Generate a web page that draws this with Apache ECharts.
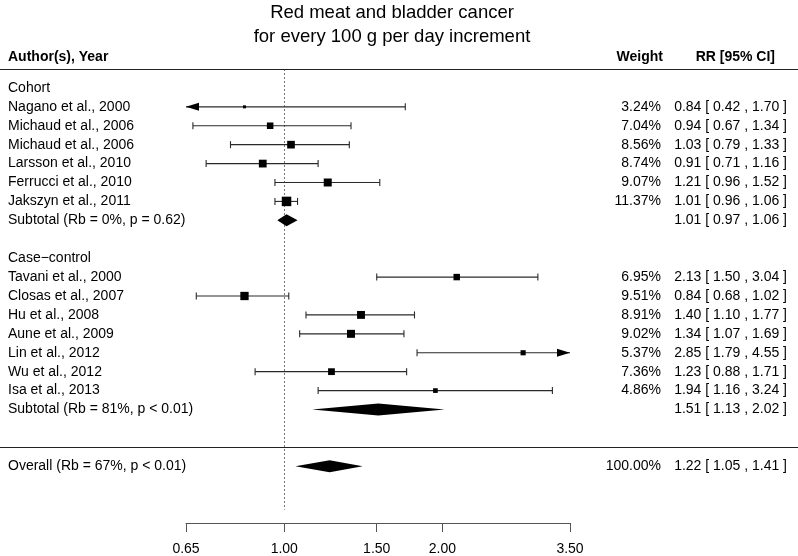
<!DOCTYPE html>
<html>
<head>
<meta charset="utf-8">
<title>Red meat and bladder cancer</title>
<script src="https://cdn.jsdelivr.net/npm/echarts@6/dist/echarts.min.js"></script>
<style>
html, body { margin: 0; padding: 0; background: #fff; }
#chart { width: 798px; height: 556px; }
</style>
</head>
<body>
<div id="chart"></div>
<script>
// individual studies, top to bottom
const studyNames = ['Nagano et al., 2000', 'Michaud et al., 2006', 'Michaud et al., 2006', 'Larsson et al., 2010',
  'Ferrucci et al., 2010', 'Jakszyn et al., 2011', 'Tavani et al., 2000', 'Closas et al., 2007',
  'Hu et al., 2008', 'Aune et al., 2009', 'Lin et al., 2012', 'Wu et al., 2012', 'Isa et al., 2013'];
const studyRows = [19, 18, 17, 16, 15, 14, 10, 9, 8, 7, 6, 5, 4];
const studyRR = [0.84, 0.94, 1.03, 0.91, 1.21, 1.01, 2.13, 0.84, 1.40, 1.34, 2.85, 1.23, 1.94];
const studyLower = [0.42, 0.67, 0.79, 0.71, 0.96, 0.96, 1.50, 0.68, 1.10, 1.07, 1.79, 0.88, 1.16];
const studyUpper = [1.70, 1.34, 1.33, 1.16, 1.52, 1.06, 3.04, 1.02, 1.77, 1.69, 4.55, 1.71, 3.24];
const studyWeight = [3.24, 7.04, 8.56, 8.74, 9.07, 11.37, 6.95, 9.51, 8.91, 9.02, 5.37, 7.36, 4.86];

// group headings
const groupNames = ['Cohort', 'Case\u2212control'];
const groupRows = [20, 11];

// pooled estimates (diamonds)
const summaryNames = ['Subtotal (Rb = 0%, p = 0.62)', 'Subtotal (Rb = 81%, p < 0.01)', 'Overall (Rb = 67%, p < 0.01)'];
const summaryRows = [13, 3, 0];
const summaryRR = [1.01, 1.51, 1.22];
const summaryLower = [0.97, 1.13, 1.05];
const summaryUpper = [1.06, 2.02, 1.41];
const summaryWeight = ['', '', '100.00%'];

// axis ticks (log scale)
const tickValues = [0.65, 1.00, 1.50, 2.00, 3.50];

const FONT = '"Liberation Sans", Arial, Helvetica, sans-serif';
const xMin = Math.log(tickValues[0]);
const xMax = Math.log(tickValues[tickValues.length - 1]);
const minW = Math.min(...studyWeight), maxW = Math.max(...studyWeight);

// box size grows with sqrt of weight
function boxSize(w) {
  return 3 + (Math.sqrt(w) - Math.sqrt(minW)) / (Math.sqrt(maxW) - Math.sqrt(minW)) * 6.5;
}
function ciText(e, l, u) {
  return e.toFixed(2) + ' [ ' + l.toFixed(2) + ' , ' + u.toFixed(2) + ' ]';
}

// text table
const textRows = [];
studyNames.forEach((n, i) => textRows.push([0, studyRows[i], n, studyWeight[i].toFixed(2) + '%', ciText(studyRR[i], studyLower[i], studyUpper[i])]));
groupNames.forEach((n, i) => textRows.push([0, groupRows[i], n, '', '']));
summaryNames.forEach((n, i) => textRows.push([0, summaryRows[i], n, summaryWeight[i], ciText(summaryRR[i], summaryLower[i], summaryUpper[i])]));

const studyData = studyNames.map((n, i) => [Math.log(studyRR[i]), studyRows[i], Math.log(studyLower[i]), Math.log(studyUpper[i]), studyWeight[i]]);
const summaryData = summaryNames.map((n, i) => [Math.log(summaryRR[i]), summaryRows[i], Math.log(summaryLower[i]), Math.log(summaryUpper[i])]);

function renderStudy(params, api) {
  const y = api.coord([0, api.value(1)])[1];
  const est = api.value(0), lo = api.value(2), hi = api.value(3);
  const xl = api.coord([Math.max(lo, xMin), 0])[0];
  const xh = api.coord([Math.min(hi, xMax), 0])[0];
  const xe = api.coord([est, 0])[0];
  const s = boxSize(api.value(4));
  const ink = '#2a2a2a';
  const kids = [{ type: 'line', shape: { x1: xl, y1: y, x2: xh, y2: y }, style: { stroke: ink, lineWidth: 1.1 } }];
  if (lo < xMin) {
    kids.push({ type: 'polygon', shape: { points: [[xl, y], [xl + 13, y - 4], [xl + 13, y + 4]] }, style: { fill: '#000' } });
  } else {
    kids.push({ type: 'line', shape: { x1: xl, y1: y - 3.5, x2: xl, y2: y + 3.5 }, style: { stroke: ink, lineWidth: 1.1 } });
  }
  if (hi > xMax) {
    kids.push({ type: 'polygon', shape: { points: [[xh, y], [xh - 13, y - 4], [xh - 13, y + 4]] }, style: { fill: '#000' } });
  } else {
    kids.push({ type: 'line', shape: { x1: xh, y1: y - 3.5, x2: xh, y2: y + 3.5 }, style: { stroke: ink, lineWidth: 1.1 } });
  }
  kids.push({ type: 'rect', shape: { x: xe - s / 2, y: y - s / 2, width: s, height: s }, style: { fill: '#000' } });
  return { type: 'group', children: kids };
}

function renderDiamond(params, api) {
  const y = api.coord([0, api.value(1)])[1];
  const xe = api.coord([api.value(0), 0])[0];
  const xl = api.coord([api.value(2), 0])[0];
  const xh = api.coord([api.value(3), 0])[0];
  return { type: 'polygon', shape: { points: [[xl, y], [xe, y - 6], [xh, y], [xe, y + 6]] }, style: { fill: '#000' } };
}

function renderText(params, api) {
  const y = api.coord([0, api.value(1)])[1];
  const row = textRows[params.dataIndex];
  const st = (t, x, align) => ({ type: 'text', x: x, y: y,
    style: { text: t, fill: '#000', fontSize: 14, fontFamily: FONT, align: align, verticalAlign: 'middle' } });
  return { type: 'group', children: [st(row[2], 8, 'left'), st(row[3], 661, 'right'), st(row[4], 787, 'right')] };
}

function renderRule(params, api) {
  const y = Math.round(api.coord([0, api.value(1)])[1]) + 0.5;
  return { type: 'line', shape: { x1: 0, y1: y, x2: api.getWidth(), y2: y }, style: { stroke: '#222', lineWidth: 1 } };
}

function renderRef(params, api) {
  const p1 = api.coord([api.value(0), api.value(1)]);
  const p2 = api.coord([api.value(0), api.value(2)]);
  const x = Math.round(p1[0]) + 0.5;
  return { type: 'line', shape: { x1: x, y1: p1[1], x2: x, y2: p2[1] }, style: { stroke: '#777', lineWidth: 1, lineDash: [2, 2] } };
}

const chart = echarts.init(document.getElementById('chart'));
const headStyle = { fill: '#000', fontSize: 14, fontWeight: 'bold', fontFamily: FONT, verticalAlign: 'middle' };
chart.setOption({
  animation: false,
  backgroundColor: '#fff',
  graphic: [
    { type: 'text', x: 392, y: 13, style: { text: 'Red meat and bladder cancer', fill: '#000', fontSize: 18.5, fontFamily: FONT, align: 'center', verticalAlign: 'middle' } },
    { type: 'text', x: 392, y: 37, style: { text: 'for every 100 g per day increment', fill: '#000', fontSize: 18.5, fontFamily: FONT, align: 'center', verticalAlign: 'middle' } },
    { type: 'text', x: 8, y: 57, style: Object.assign({ text: 'Author(s), Year', align: 'left' }, headStyle) },
    { type: 'text', x: 663, y: 57, style: Object.assign({ text: 'Weight', align: 'right' }, headStyle) },
    { type: 'text', x: 775, y: 57, style: Object.assign({ text: 'RR [95% CI]', align: 'right' }, headStyle) }
  ],
  grid: { left: 186, right: 228, top: 69, bottom: 33 },
  xAxis: {
    type: 'value',
    min: xMin,
    max: xMax,
    splitLine: { show: false },
    axisLine: { show: true, onZero: false, lineStyle: { color: '#555', width: 1 } },
    axisTick: { show: true, length: 9, customValues: tickValues.map(Math.log), lineStyle: { color: '#555' } },
    axisLabel: {
      customValues: tickValues.map(Math.log),
      formatter: v => Math.exp(v).toFixed(2),
      margin: 19, fontSize: 14, color: '#000', fontFamily: FONT
    }
  },
  yAxis: { type: 'value', min: -3, max: 21, show: false },
  series: [
    { type: 'custom', clip: false, silent: true, data: [[0, 21, -2.3]], renderItem: renderRef },
    { type: 'custom', clip: false, silent: true, data: [[0, 21], [0, 1]], renderItem: renderRule },
    { type: 'custom', clip: false, silent: true, data: studyData, renderItem: renderStudy },
    { type: 'custom', clip: false, silent: true, data: summaryData, renderItem: renderDiamond },
    { type: 'custom', clip: false, silent: true, data: textRows.map(r => [r[0], r[1]]), renderItem: renderText }
  ]
});
</script>
</body>
</html>
